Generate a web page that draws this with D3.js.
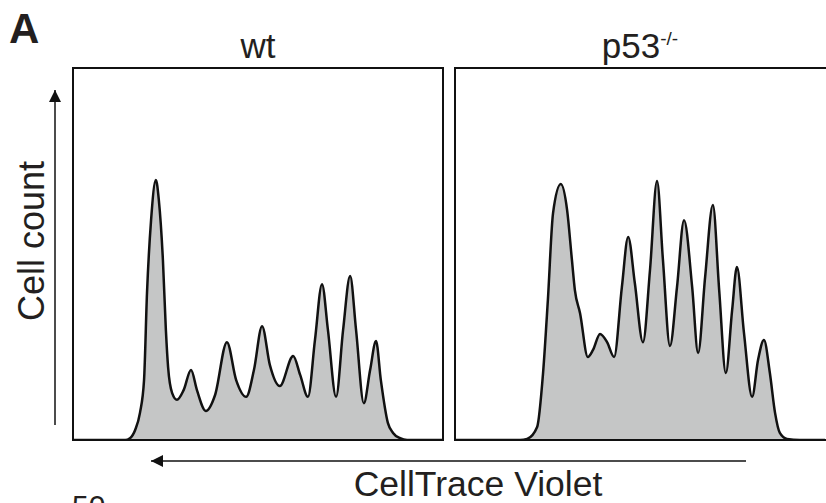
<!DOCTYPE html>
<html>
<head>
<meta charset="utf-8">
<script src="https://cdn.jsdelivr.net/npm/d3@7"></script>
<style>
  html, body { margin: 0; padding: 0; background: #fff; }
  svg { display: block; }
  text { font-family: "Liberation Sans", Arial, Helvetica, sans-serif; fill: #231f20; }
</style>
</head>
<body>
<svg id="chart" width="826" height="503"></svg>
<script>
// ---- Data (channel position 0-100, relative cell count 0-100) ----
const panelTitles = ["wt", "p53"];
const panelSuperscripts = ["", "-/-"];

const wtChannel = [0, 10.5, 14.1, 15.4, 16.8, 18.1, 19.2, 20.0, 21.1, 22.4, 23.2, 24.3, 25.1, 25.7, 26.8, 28.1,
  29.9, 31.9, 33.5, 35.9, 38.4, 41.6, 44.1, 46.8, 48.9, 51.1, 53.2, 55.9, 59.5, 61.4, 63.5, 65.4, 67.3, 68.9,
  71.1, 73.0, 74.9, 76.5, 78.6, 80.3, 81.9, 83.2, 85.1, 86.5, 88.4, 90.3, 93.8, 100];
const wtCount = [0, 0, 0, 0.5, 2.7, 7.3, 16.1, 39.5, 59.1, 69.9, 64.5, 48.4, 29.6, 19.6, 12.6, 10.8,
  13.4, 18.8, 13.4, 7.8, 12.1, 26.3, 16.1, 11.6, 18.8, 30.6, 20.2, 14.5, 22.6, 17.5, 11.6, 26.9, 41.9, 29.6,
  11.6, 29.6, 44.1, 29.6, 9.9, 18.8, 26.6, 16.1, 4.6, 1.9, 0.5, 0, 0, 0];

const p53Channel = [0, 17.6, 19.5, 22.2, 23.8, 25.1, 26.5, 28.6, 30.3, 31.6, 32.4, 33.8, 35.9, 37.3, 39.2, 41.1,
  43.0, 45.1, 46.8, 48.6, 50.8, 52.7, 54.6, 56.2, 58.1, 60.0, 61.9, 64.1, 65.7, 67.6, 69.7, 71.4, 73.2, 74.9,
  76.2, 78.1, 80.3, 81.9, 83.5, 85.1, 86.5, 87.8, 89.7, 93.2, 100];
const p53Count = [0, 0, 0.3, 3.5, 18.0, 37.6, 61.0, 68.8, 61.8, 48.4, 40.3, 34.1, 22.3, 24.2, 28.5, 26.3,
  22.3, 41.1, 54.6, 42.2, 26.3, 45.7, 69.6, 48.4, 25.3, 41.1, 59.1, 41.1, 23.4, 43.8, 63.2, 40.3, 18.0, 34.9,
  46.5, 28.8, 11.6, 21.5, 26.9, 18.0, 7.3, 1.9, 0.3, 0, 0];

const channels = [wtChannel, p53Channel];
const counts = [wtCount, p53Count];

const yAxisLabel = "Cell count";
const xAxisLabel = "CellTrace Violet";
const panelLetter = "A";
const strayLabel = "50";

// ---- Layout ----
const svg = d3.select("#chart");
const plotTop = 68, plotBottom = 440;
const panelLefts = [73, 455];
const panelWidth = 370;
const frameWidths = [370, 375]; // right frame runs off the edge, as in the figure

const y = d3.scaleLinear().domain([0, 100]).range([plotBottom, plotTop]);

panelLefts.forEach((left, i) => {
  const x = d3.scaleLinear().domain([0, 100]).range([left, left + panelWidth]);
  const pts = channels[i].map((c, k) => [c, counts[i][k]]);
  const g = svg.append("g");
  const fw = frameWidths[i];

  const clipId = "clip" + i;
  svg.append("clipPath").attr("id", clipId)
    .append("rect").attr("x", left).attr("y", plotTop).attr("width", fw).attr("height", plotBottom - plotTop);

  const area = d3.area().x(d => x(d[0])).y0(y(0)).y1(d => y(d[1])).curve(d3.curveMonotoneX);
  const line = d3.line().x(d => x(d[0])).y(d => y(d[1])).curve(d3.curveMonotoneX);

  g.append("path").attr("d", area(pts)).attr("fill", "#c5c6c6").attr("clip-path", `url(#${clipId})`);
  g.append("path").attr("d", line(pts)).attr("fill", "none").attr("stroke", "#111")
    .attr("stroke-width", 2.5).attr("stroke-linejoin", "round").attr("clip-path", `url(#${clipId})`);

  g.append("rect").attr("x", left).attr("y", plotTop).attr("width", fw).attr("height", plotBottom - plotTop)
    .attr("fill", "none").attr("stroke", "#111").attr("stroke-width", 2);

  const t = g.append("text").attr("x", left + panelWidth / 2)
    .attr("y", 58).attr("text-anchor", "middle").attr("font-size", 35);
  t.append("tspan").text(panelTitles[i]);
  if (panelSuperscripts[i]) {
    t.append("tspan").attr("dy", -13).attr("font-size", 19).text(panelSuperscripts[i]);
  }
});

// Panel letter
svg.append("text").attr("x", 9).attr("y", 43).attr("font-size", 42).attr("font-weight", "bold").text(panelLetter);

// Arrow markers
const defs = svg.append("defs");
defs.append("marker").attr("id", "arrow").attr("viewBox", "0 0 10 10").attr("refX", 10).attr("refY", 5)
  .attr("markerUnits", "userSpaceOnUse").attr("markerWidth", 13).attr("markerHeight", 12).attr("orient", "auto")
  .append("path").attr("d", "M0,0 L10,5 L0,10 Z").attr("fill", "#111");

// Y arrow
svg.append("line").attr("x1", 55).attr("y1", 425).attr("x2", 55).attr("y2", 90)
  .attr("stroke", "#111").attr("stroke-width", 1.5).attr("marker-end", "url(#arrow)");
svg.append("text").attr("transform", "translate(44,241) rotate(-90)").attr("text-anchor", "middle")
  .attr("font-size", 36).text(yAxisLabel);

// X arrow
svg.append("line").attr("x1", 746).attr("y1", 461).attr("x2", 151).attr("y2", 461)
  .attr("stroke", "#111").attr("stroke-width", 1.5).attr("marker-end", "url(#arrow)");
svg.append("text").attr("x", 478).attr("y", 496).attr("text-anchor", "middle")
  .attr("font-size", 35.5).text(xAxisLabel);

// stray label cut at bottom (as in the source figure)
svg.append("text").attr("x", 72).attr("y", 516).attr("font-size", 30).text(strayLabel);
</script>
</body>
</html>
